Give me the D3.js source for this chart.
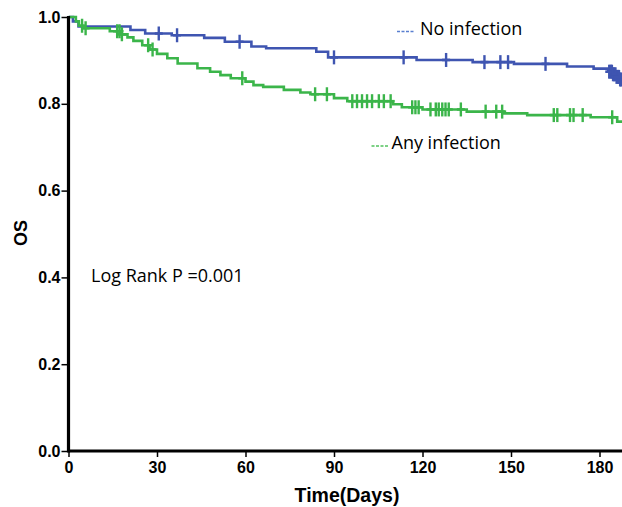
<!DOCTYPE html>
<html lang="en">
  <head>
    <meta charset="UTF-8" />
    <script src="https://d3js.org/d3.v7.min.js"></script>
    <title>OS by infection</title>
    <style type="text/css">
      body {
        margin: 0;
        background: #fff;
      }
      .tick text {
        fill: #000;
        font-size: 16px;
        font-weight: bold;
        font-family: 'Liberation Sans', Arial, sans-serif;
      }
      .tick line {
        stroke: #000;
        stroke-width: 1.5px;
      }
      .domain {
        display: none;
      }
      .axis-label {
        fill: #000;
        font-weight: bold;
        font-family: 'Liberation Sans', Arial, sans-serif;
      }
      .note {
        fill: #000;
        font-size: 18px;
        font-family: 'Open Sans', sans-serif;
      }
    </style>
  </head>
  <body>
    <svg width="622" height="507"></svg>
  </body>
  <script type="text/javascript">
    // x ticks (days) and y ticks (OS)
    const xTicks = [0, 30, 60, 90, 120, 150, 180];
    const yTicks = [0.0, 0.2, 0.4, 0.6, 0.8, 1.0];

    // No infection: step times and survival after each step
    const noInfTimes = [0, 1.5, 3.4, 21, 26, 35, 46, 53, 62, 67, 84, 88, 118, 137, 151, 169, 178, 183, 184.5, 185.8, 187];
    const noInfSurv = [1.0, 0.99, 0.978, 0.97, 0.962, 0.958, 0.952, 0.943, 0.932, 0.928, 0.92, 0.907, 0.901, 0.896, 0.892, 0.886, 0.881, 0.874, 0.868, 0.862, 0.856];
    const noInfCensor = [30.6, 36.8, 58, 90, 113.6, 128, 141, 146.4, 149, 161.7,
      183.3, 183.8, 184.2, 184.6, 185, 185.4, 185.8, 186.2, 186.6, 187, 187.4];

    // Any infection
    const anyInfTimes = [0, 2.5, 3.5, 5, 14, 18, 20, 22, 25, 27.5, 30, 33.5, 37, 43.7, 48, 51.5, 55, 60, 62.7, 66, 73, 78.6, 82, 90, 94.5, 110, 113, 120, 135, 147.5, 155.5, 177, 186];
    const anyInfSurv = [1.0, 0.99, 0.98, 0.974, 0.967, 0.96, 0.953, 0.945, 0.935, 0.925, 0.915, 0.905, 0.893, 0.882, 0.874, 0.866, 0.859, 0.851, 0.843, 0.839, 0.832, 0.826, 0.822, 0.813, 0.806, 0.799, 0.792, 0.787, 0.782, 0.778, 0.774, 0.769, 0.759];
    const anyInfCensor = [4.6, 5.8, 16.5, 17.3, 18.1, 27, 28.5, 58.9, 83.6, 87.6,
      96.2, 97.8, 99.5, 101.2, 102.9, 105.2, 106.9, 109.2, 116.5, 117.6, 118.7, 122.7,
      124.5, 125.5, 126.7, 127.8, 128.9, 133, 141.4, 145, 147, 164.5, 165.7, 170, 171.2, 174.3, 184.3];

    const seriesNames = ['No infection', 'Any infection'];
    const colors = ['#3f55b1', '#3bb54a'];
    const legendColors = ['#5a7fd0', '#52c25e'];

    const width = 622;
    const height = 507;
    const xMax = 187.8;

    const svg = d3.select('svg').attr('width', width).attr('height', height);

    const xScale = d3.scaleLinear().domain([0, 180]).range([68.5, 599.5]);
    const yScale = d3.scaleLinear().domain([0, 1]).range([451, 17]);

    const series = [
      { name: seriesNames[0], times: noInfTimes, surv: noInfSurv, censor: noInfCensor },
      { name: seriesNames[1], times: anyInfTimes, surv: anyInfSurv, censor: anyInfCensor },
    ];

    // survival at time t (step function)
    const survAt = (s, t) => {
      let v = s.surv[0];
      s.times.forEach((tt, i) => {
        if (tt <= t) v = s.surv[i];
      });
      return v;
    };

    svg
      .append('clipPath')
      .attr('id', 'plot-clip')
      .append('rect')
      .attr('x', xScale(0))
      .attr('y', 0)
      .attr('width', xScale(xMax) - xScale(0))
      .attr('height', yScale(0));

    const plot = svg.append('g').attr('clip-path', 'url(#plot-clip)');

    const line = d3
      .line()
      .x((d) => xScale(d[0]))
      .y((d) => yScale(d[1]))
      .curve(d3.curveStepAfter);

    series.forEach((s, i) => {
      const pts = s.times.map((t, j) => [t, s.surv[j]]);
      pts.push([xMax, s.surv[s.surv.length - 1]]);
      plot
        .append('path')
        .datum(pts)
        .attr('d', line)
        .attr('fill', 'none')
        .attr('stroke', colors[i])
        .attr('stroke-width', 2.6);

      // censor marks
      const marks = plot.append('g').selectAll('g').data(s.censor).enter().append('g');
      marks
        .append('line')
        .attr('x1', (d) => xScale(d))
        .attr('x2', (d) => xScale(d))
        .attr('y1', (d) => yScale(survAt(s, d)) - 7)
        .attr('y2', (d) => yScale(survAt(s, d)) + 7)
        .attr('stroke', colors[i])
        .attr('stroke-width', 2.4);
      marks
        .append('line')
        .attr('x1', (d) => xScale(d) - 4)
        .attr('x2', (d) => xScale(d) + 4)
        .attr('y1', (d) => yScale(survAt(s, d)))
        .attr('y2', (d) => yScale(survAt(s, d)))
        .attr('stroke', colors[i])
        .attr('stroke-width', 2.6);
    });

    // axes
    svg
      .append('g')
      .attr('transform', `translate(0, ${yScale(0)})`)
      .call(d3.axisBottom(xScale).tickValues(xTicks).tickSize(6).tickPadding(5));
    svg
      .append('g')
      .attr('transform', `translate(${xScale(0)}, 0)`)
      .call(d3.axisLeft(yScale).tickValues(yTicks).tickFormat(d3.format('.1f')).tickSize(7).tickPadding(1));

    svg
      .append('line')
      .attr('x1', xScale(0))
      .attr('x2', width)
      .attr('y1', yScale(0))
      .attr('y2', yScale(0))
      .attr('stroke', '#000')
      .attr('stroke-width', 3.2);
    svg
      .append('line')
      .attr('x1', xScale(0))
      .attr('x2', xScale(0))
      .attr('y1', yScale(1) - 1)
      .attr('y2', yScale(0) + 1.6)
      .attr('stroke', '#000')
      .attr('stroke-width', 3.2);

    // axis titles
    svg
      .append('text')
      .attr('class', 'axis-label')
      .attr('x', 347)
      .attr('y', 502)
      .attr('text-anchor', 'middle')
      .style('font-size', '19.5px')
      .text('Time(Days)');
    svg
      .append('text')
      .attr('class', 'axis-label')
      .attr('transform', 'translate(26.5, 233) rotate(-90)')
      .attr('text-anchor', 'middle')
      .style('font-size', '18px')
      .text('OS');

    // legend
    const legendPos = [
      [397, 31.5, 420, 35],
      [371.5, 146, 391.5, 148.5],
    ];
    seriesNames.forEach((name, i) => {
      const p = legendPos[i];
      svg
        .append('line')
        .attr('x1', p[0])
        .attr('x2', p[0] + 17)
        .attr('y1', p[1])
        .attr('y2', p[1])
        .attr('stroke', legendColors[i])
        .attr('stroke-width', 1.3)
        .attr('stroke-dasharray', '3,1.5');
      svg.append('text').attr('class', 'note').attr('x', p[2]).attr('y', p[3]).text(name);
    });

    svg.append('text').attr('class', 'note').attr('x', 91).attr('y', 281.5).text('Log Rank P =0.001');
  </script>
</html>
